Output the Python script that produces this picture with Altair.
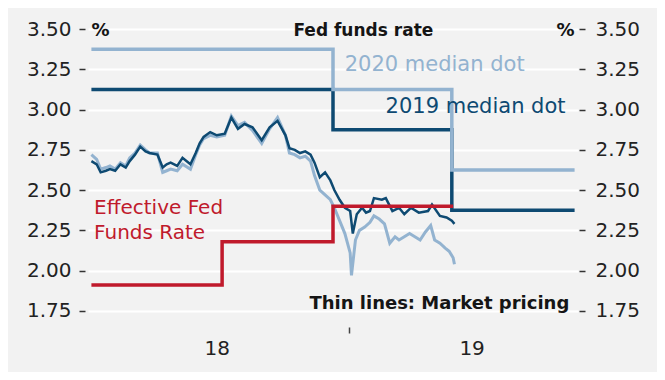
import altair as alt
import pandas as pd

# ---- data ----
# market pricing for 2019 (dark thin line)
m2019_dates = ["2018-06-20", "2018-06-24", "2018-06-27", "2018-07-01", "2018-07-04", "2018-07-08",
               "2018-07-12", "2018-07-16", "2018-07-19", "2018-07-23", "2018-07-27", "2018-07-31",
               "2018-08-03", "2018-08-09", "2018-08-13", "2018-08-16", "2018-08-19", "2018-08-24",
               "2018-08-28", "2018-09-03", "2018-09-07", "2018-09-10", "2018-09-13", "2018-09-18",
               "2018-09-23", "2018-09-29", "2018-10-04", "2018-10-09", "2018-10-14", "2018-10-20",
               "2018-10-27", "2018-11-02", "2018-11-08", "2018-11-14", "2018-11-17", "2018-11-21",
               "2018-11-25", "2018-11-29", "2018-12-03", "2018-12-06", "2018-12-10", "2018-12-14",
               "2018-12-18", "2018-12-21", "2018-12-25", "2018-12-29", "2019-01-02", "2019-01-04",
               "2019-01-07", "2019-01-11", "2019-01-14", "2019-01-17", "2019-01-20", "2019-01-26",
               "2019-01-29", "2019-02-03", "2019-02-08", "2019-02-12", "2019-02-17", "2019-02-23",
               "2019-03-02", "2019-03-05", "2019-03-11", "2019-03-16", "2019-03-20", "2019-03-22"]
m2019_vals = [2.68, 2.66, 2.61, 2.62, 2.63, 2.62,
              2.66, 2.64, 2.68, 2.72, 2.77, 2.74,
              2.73, 2.72, 2.64, 2.66, 2.67, 2.65,
              2.70, 2.66, 2.73, 2.79, 2.83, 2.86,
              2.84, 2.85, 2.95, 2.88, 2.91, 2.89,
              2.81, 2.89, 2.93, 2.84, 2.76, 2.75,
              2.73, 2.74, 2.72, 2.67, 2.58, 2.61,
              2.56, 2.50, 2.44, 2.39, 2.37, 2.23,
              2.35, 2.39, 2.36, 2.37, 2.45, 2.44,
              2.45, 2.37, 2.39, 2.35, 2.39, 2.36,
              2.37, 2.41, 2.34, 2.33, 2.31, 2.29]

# market pricing for 2020 (light thin line)
m2020_dates = ["2018-06-20", "2018-06-24", "2018-06-27", "2018-07-01", "2018-07-04", "2018-07-08",
               "2018-07-12", "2018-07-16", "2018-07-19", "2018-07-23", "2018-07-27", "2018-07-31",
               "2018-08-03", "2018-08-09", "2018-08-13", "2018-08-16", "2018-08-19", "2018-08-24",
               "2018-08-28", "2018-09-03", "2018-09-07", "2018-09-10", "2018-09-13", "2018-09-18",
               "2018-09-23", "2018-09-29", "2018-10-04", "2018-10-09", "2018-10-14", "2018-10-20",
               "2018-10-27", "2018-11-02", "2018-11-08", "2018-11-14", "2018-11-17", "2018-11-21",
               "2018-11-25", "2018-11-29", "2018-12-03", "2018-12-06", "2018-12-10", "2018-12-14",
               "2018-12-18", "2018-12-21", "2018-12-25", "2018-12-29", "2019-01-02", "2019-01-03",
               "2019-01-06", "2019-01-09", "2019-01-13", "2019-01-17", "2019-01-20", "2019-01-24",
               "2019-01-28", "2019-02-01", "2019-02-05", "2019-02-08", "2019-02-12", "2019-02-16",
               "2019-02-20", "2019-02-24", "2019-02-28", "2019-03-04", "2019-03-07", "2019-03-11",
               "2019-03-15", "2019-03-18", "2019-03-21", "2019-03-22"]
m2020_vals = [2.72, 2.69, 2.63, 2.64, 2.65, 2.63,
              2.67, 2.65, 2.70, 2.73, 2.78, 2.75,
              2.73, 2.73, 2.61, 2.62, 2.63, 2.62,
              2.66, 2.63, 2.72, 2.78, 2.82, 2.84,
              2.83, 2.84, 2.96, 2.90, 2.92, 2.87,
              2.79, 2.88, 2.95, 2.84, 2.73, 2.72,
              2.70, 2.71, 2.68, 2.59, 2.50, 2.47,
              2.44, 2.39, 2.31, 2.23, 2.11, 1.97,
              2.19, 2.25, 2.27, 2.30, 2.34, 2.32,
              2.29, 2.17, 2.21, 2.19, 2.21, 2.23,
              2.21, 2.19, 2.24, 2.28, 2.19, 2.17,
              2.14, 2.12, 2.08, 2.04]

# effective fed funds rate (step)
effr_dates = ["2018-06-20", "2018-09-27", "2018-12-20", "2019-03-21"]
effr_vals = [1.91, 2.18, 2.40, 2.40]

# FOMC median dots (steps)
dot_dates = ["2018-06-20", "2018-12-20", "2019-03-20", "2019-06-21"]
dot2019_vals = [3.125, 2.875, 2.375, 2.375]
dot2020_vals = [3.375, 3.125, 2.625, 2.625]

y_ticks = [1.75, 2.00, 2.25, 2.50, 2.75, 3.00, 3.25, 3.50]

# annotation texts
ann_text = ["Fed funds rate", "%", "%", "2020 median dot", "2019 median dot",
            "Effective Fed", "Funds Rate", "Thin lines: Market pricing"]
ann_date = ["2019-01-12", "2018-06-20", "2019-06-21", "2019-03-07", "2019-04-07",
            "2018-06-22", "2018-06-22", "2019-06-17"]
ann_val = [3.49, 3.49, 3.49, 3.276, 3.014, 2.39, 2.236, 1.795]

DARK = "#0e4a72"
LIGHT = "#93b3d0"
RED = "#c01a2c"
INK = "#151515"
FONT = "DejaVu Sans"

xscale = alt.Scale(domain=[alt.DateTime(year=2018, month=6, date=17, hours=10),
                           alt.DateTime(year=2019, month=6, date=23, hours=14)])
yscale = alt.Scale(domain=[1.65, 3.5], nice=False, zero=False)

x_axis = alt.Axis(
    values=[alt.DateTime(year=2018, month=9, date=23),
            alt.DateTime(year=2019, month=1, date=1),
            alt.DateTime(year=2019, month=4, date=4)],
    labelExpr="month(datum.value)==0 ? '' : timeFormat(datum.value, '%y')",
    tickOpacity={"condition": {"test": "month(datum.value)==0", "value": 1}, "value": 0},
    tickSize=6, tickWidth=1.5, tickColor="#444", domain=False, grid=False,
    labelFont=FONT, labelFontSize=20, labelColor="#222", labelPadding=5, title=None,
)
left_axis = alt.Axis(values=y_ticks, format=".2f", orient="left", grid=True, gridColor="white",
                     gridWidth=2, domain=False, tickSize=6, tickWidth=1.5, tickColor="#333",
                     offset=3, labelPadding=8, labelFont=FONT, labelFontSize=20,
                     labelColor="#222", title=None)
right_axis = alt.Axis(values=y_ticks, format=".2f", orient="right", grid=False, domain=False,
                      tickSize=6, tickWidth=1.5, tickColor="#333", offset=1, labelPadding=10,
                      labelFont=FONT, labelFontSize=20, labelColor="#222", title=None)


def line_layer(dates, vals, color, width, interp="linear", xaxis=None, yaxis=None):
    df = pd.DataFrame({"date": dates, "v": vals})
    return alt.Chart(df).mark_line(color=color, strokeWidth=width, interpolate=interp,
                                   strokeJoin="miter", strokeCap="butt").encode(
        x=alt.X("date:T", scale=xscale, axis=xaxis),
        y=alt.Y("v:Q", scale=yscale, axis=yaxis),
    )


def text_layer(i, color, size, weight, align):
    df = pd.DataFrame({"date": [ann_date[i]], "v": [ann_val[i]], "t": [ann_text[i]]})
    return alt.Chart(df).mark_text(align=align, baseline="middle", font=FONT, fontSize=size,
                                   fontWeight=weight, color=color).encode(
        x=alt.X("date:T", scale=xscale, axis=None),
        y=alt.Y("v:Q", scale=yscale, axis=None),
        text="t:N",
    )


layers = [
    line_layer(dot_dates, dot2019_vals, DARK, 3.5, "step-after", xaxis=x_axis, yaxis=left_axis),
    line_layer(dot_dates, dot2020_vals, LIGHT, 3.5, "step-after", yaxis=right_axis),
    line_layer(m2020_dates, m2020_vals, LIGHT, 3),
    line_layer(m2019_dates, m2019_vals, DARK, 2.5),
    line_layer(effr_dates, effr_vals, RED, 3.5, "step-after"),
    text_layer(0, INK, 17, "bold", "center"),
    text_layer(1, INK, 18, "bold", "left"),
    text_layer(2, INK, 18, "bold", "right"),
    text_layer(3, LIGHT, 21, "normal", "center"),
    text_layer(4, DARK, 21, "normal", "center"),
    text_layer(5, RED, 20, "normal", "left"),
    text_layer(6, RED, 20, "normal", "left"),
    text_layer(7, INK, 18, "bold", "right"),
]

chart = alt.layer(*layers).resolve_axis(x="independent", y="independent").properties(
    width=490, height=298,
    padding={"left": 80, "top": 21, "right": 79, "bottom": 45},
    autosize=alt.AutoSizeParams(type="none"),
).configure(background="#f2f2f2").configure_view(strokeWidth=0)

chart.save("out.html", embed_options={"renderer": "svg", "actions": False})
